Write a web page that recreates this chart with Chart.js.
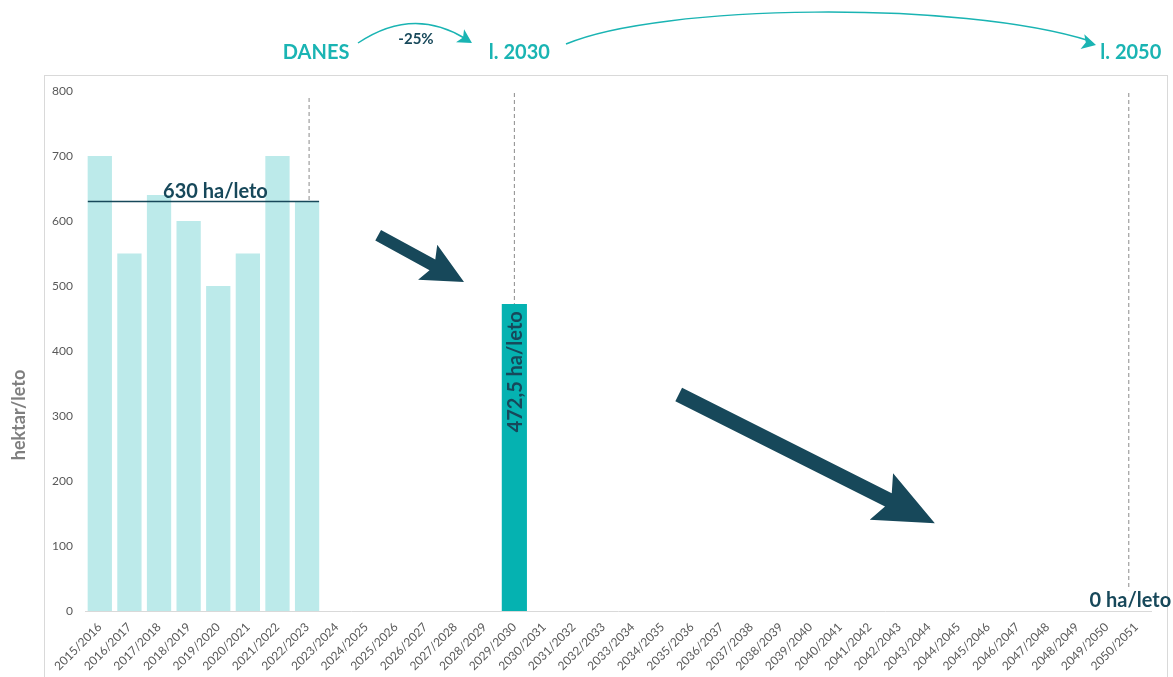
<!DOCTYPE html>
<html>
<head>
<meta charset="utf-8">
<script src="https://cdn.jsdelivr.net/npm/chart.js@4.4.1/dist/chart.umd.min.js"></script>
<style>
    html, body { margin: 0; padding: 0; background: #ffffff; }
    #wrap { width: 1173px; height: 677px; position: relative; }
</style>
</head>
<body>
<div id="wrap"><canvas id="report-bar-chart" width="1173" height="677"></canvas></div>
<script>
(function () {
    "use strict";

    // Data
    const categories = [
        "2015/2016", "2016/2017", "2017/2018", "2018/2019", "2019/2020", "2020/2021",
        "2021/2022", "2022/2023", "2023/2024", "2024/2025", "2025/2026", "2026/2027",
        "2027/2028", "2028/2029", "2029/2030", "2030/2031", "2031/2032", "2032/2033",
        "2033/2034", "2034/2035", "2035/2036", "2036/2037", "2037/2038", "2038/2039",
        "2039/2040", "2040/2041", "2041/2042", "2042/2043", "2043/2044", "2044/2045",
        "2045/2046", "2046/2047", "2047/2048", "2048/2049", "2049/2050", "2050/2051",
    ];
    const historyValues = [700, 550, 640, 600, 500, 550, 700, 630];
    const targetValues = [
        null, null, null, null, null, null, null, null, null, null, null, null, null, null,
        472.5,
    ];
    const yTicks = [0, 100, 200, 300, 400, 500, 600, 700, 800];
    const averageToday = 630;
    const target2030 = 472.5;
    const target2050 = 0;

    const TEAL = "#1ab4b3";
    const NAVY = "#17485a";
    const FONT = "Lato, 'Open Sans', sans-serif";

    function arrowHead(ctx, x, y, angle, size) {
        ctx.save();
        ctx.translate(x, y);
        ctx.rotate(angle);
        ctx.beginPath();
        ctx.moveTo(0, 0);
        ctx.lineTo(-size, -size * 0.55);
        ctx.lineTo(-size * 0.75, 0);
        ctx.lineTo(-size, size * 0.55);
        ctx.closePath();
        ctx.fill();
        ctx.restore();
    }

    function blockArrow(ctx, x1, y1, x2, y2, shaft, headW, headL) {
        const ang = Math.atan2(y2 - y1, x2 - x1);
        const len = Math.hypot(x2 - x1, y2 - y1);
        ctx.save();
        ctx.translate(x1, y1);
        ctx.rotate(ang);
        ctx.beginPath();
        ctx.moveTo(0, -shaft / 2);
        ctx.lineTo(len - headL, -shaft / 2);
        ctx.lineTo(len - headL - headL * 0.15, -headW / 2);
        ctx.lineTo(len, 0);
        ctx.lineTo(len - headL - headL * 0.15, headW / 2);
        ctx.lineTo(len - headL, shaft / 2);
        ctx.lineTo(0, shaft / 2);
        ctx.closePath();
        ctx.fillStyle = NAVY;
        ctx.fill();
        ctx.restore();
    }

    // Frame, header and annotations
    const decorations = {
        id: "decorations",
        beforeDraw(chart) {
            const ctx = chart.ctx;
            ctx.save();
            ctx.strokeStyle = "#d9d9d9";
            ctx.lineWidth = 1;
            ctx.strokeRect(44.5, 75.5, 1123, 640);
            ctx.restore();
        },
        afterDraw(chart) {
            const ctx = chart.ctx;
            const x = chart.scales.x;
            const y = chart.scales.y;
            const step = x.getPixelForValue(1) - x.getPixelForValue(0);
            const xToday = x.getPixelForValue(7);
            const x2030 = x.getPixelForValue(14);
            const x2050 = x.getPixelForValue(34) + step * 0.75;

            ctx.save();

            // y title
            ctx.save();
            ctx.translate(19, 415);
            ctx.rotate(-Math.PI / 2);
            ctx.font = "bold 18px " + FONT;
            ctx.fillStyle = "#7f7f7f";
            ctx.textAlign = "center";
            ctx.textBaseline = "middle";
            ctx.fillText("hektar/leto", 0, 0);
            ctx.restore();

            // dashed markers
            ctx.strokeStyle = "#8a8a8a";
            ctx.lineWidth = 1;
            ctx.setLineDash([4, 3]);
            ctx.beginPath();
            ctx.moveTo(xToday + 2, 98);
            ctx.lineTo(xToday + 2, y.getPixelForValue(averageToday));
            ctx.moveTo(x2030, 93);
            ctx.lineTo(x2030, y.getPixelForValue(target2030));
            ctx.moveTo(x2050, 93);
            ctx.lineTo(x2050, y.getPixelForValue(32));
            ctx.stroke();
            ctx.setLineDash([]);

            // average line
            const yAvg = y.getPixelForValue(averageToday);
            ctx.strokeStyle = NAVY;
            ctx.lineWidth = 1.5;
            ctx.beginPath();
            ctx.moveTo(x.getPixelForValue(0) - 12, yAvg);
            ctx.lineTo(xToday + 12, yAvg);
            ctx.stroke();

            ctx.fillStyle = NAVY;
            ctx.font = "bold 20px " + FONT;
            ctx.textAlign = "center";
            ctx.textBaseline = "alphabetic";
            ctx.fillText(averageToday + " ha/leto", (x.getPixelForValue(0) + xToday) / 2 + 12, yAvg - 4);

            // label inside 2030 bar
            ctx.save();
            ctx.translate(x2030 + 1, y.getPixelForValue(368));
            ctx.rotate(-Math.PI / 2);
            ctx.textAlign = "center";
            ctx.textBaseline = "middle";
            ctx.fillText("472,5 ha/leto", 0, 0);
            ctx.restore();

            // 2050 label
            ctx.textAlign = "right";
            ctx.textBaseline = "alphabetic";
            ctx.fillText(target2050 + " ha/leto", x.getPixelForValue(35) + 35, y.getPixelForValue(0) - 4);

            // trend arrows
            blockArrow(ctx,
                x.getPixelForValue(9.4), y.getPixelForValue(578),
                x.getPixelForValue(12.3), y.getPixelForValue(506),
                12, 40, 36);
            blockArrow(ctx,
                x.getPixelForValue(19.55), y.getPixelForValue(333),
                x.getPixelForValue(28.2), y.getPixelForValue(135),
                15, 52, 52);

            // header
            ctx.font = "bold 20px " + FONT;
            ctx.fillStyle = TEAL;
            ctx.textAlign = "center";
            ctx.fillText("DANES", xToday + 9, 59);
            ctx.fillText("l. 2030", x2030 + 5, 59);
            ctx.fillText("l. 2050", x2050 + 2, 59);

            ctx.font = "bold 15px " + FONT;
            ctx.fillStyle = NAVY;
            ctx.fillText("-25%", 416, 44);

            ctx.strokeStyle = TEAL;
            ctx.fillStyle = TEAL;
            ctx.lineWidth = 1.5;
            ctx.beginPath();
            ctx.moveTo(358, 43);
            ctx.quadraticCurveTo(413, 6, 466, 39);
            ctx.stroke();
            arrowHead(ctx, 472, 43, Math.atan2(37, 53) * 0.9, 14);

            ctx.beginPath();
            ctx.moveTo(566, 44);
            ctx.bezierCurveTo(660, 4, 960, 0, 1090, 41);
            ctx.stroke();
            arrowHead(ctx, 1096, 45, Math.atan2(41, 130) * 0.8, 14);

            ctx.restore();
        },
    };

    const ctx = document.getElementById("report-bar-chart").getContext("2d");
    new Chart(ctx, {
        type: "bar",
        data: {
            labels: categories,
            datasets: [
                {
                    label: "Stanje",
                    data: historyValues,
                    backgroundColor: "#bceaea",
                    barPercentage: 0.82,
                    categoryPercentage: 1,
                },
                {
                    label: "Cilj 2030",
                    data: targetValues,
                    backgroundColor: "#05b2b1",
                    barPercentage: 0.85,
                    categoryPercentage: 1,
                },
            ],
        },
        options: {
            responsive: false,
            animation: false,
            layout: {
                padding: { left: 44, right: 22, top: 91, bottom: 0 },
            },
            plugins: {
                legend: { display: false },
                tooltip: { enabled: false },
            },
            scales: {
                x: {
                    stacked: true,
                    grid: { display: false, drawTicks: false },
                    border: { display: true, color: "#d9d9d9", width: 1 },
                    ticks: {
                        autoSkip: false,
                        maxRotation: 45,
                        minRotation: 45,
                        padding: 9,
                        color: "#595959",
                        font: { family: FONT, size: 12 },
                    },
                    afterFit: (axis) => {
                        axis.height = 66;
                    },
                },
                y: {
                    stacked: true,
                    min: yTicks[0],
                    max: yTicks[yTicks.length - 1],
                    grid: { display: false, drawTicks: false },
                    border: { display: false },
                    afterBuildTicks: (axis) => {
                        axis.ticks = yTicks.map((v) => ({ value: v }));
                    },
                    ticks: {
                        padding: 12,
                        color: "#595959",
                        font: { family: FONT, size: 12 },
                    },
                    afterFit: (axis) => {
                        axis.width = 41;
                    },
                },
            },
        },
        plugins: [decorations],
    });
})();
</script>
</body>
</html>
